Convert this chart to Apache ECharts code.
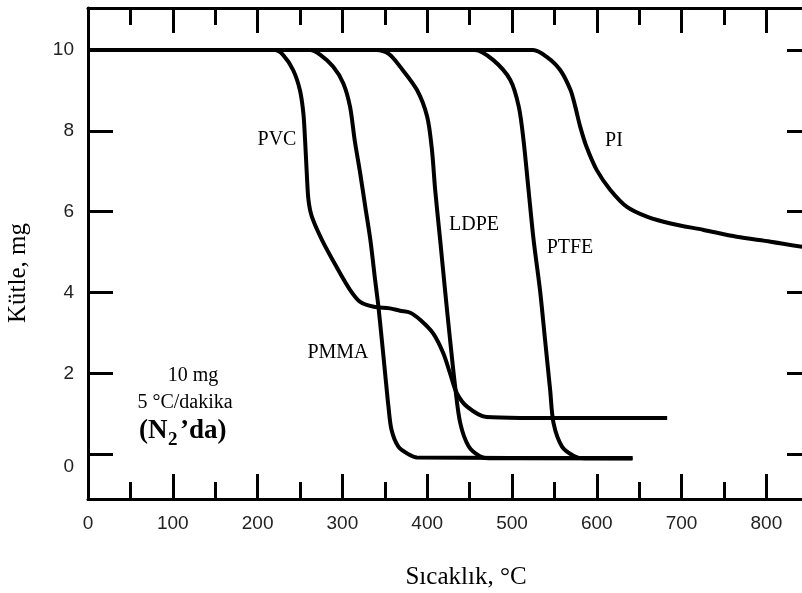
<!DOCTYPE html>
<html>
<head>
<meta charset="utf-8">
<script src="https://cdn.jsdelivr.net/npm/echarts@6/dist/echarts.min.js"></script>
<style>
  html, body { margin: 0; padding: 0; background: #fff; }
  #chart { width: 802px; height: 593px; }
</style>
</head>
<body>
<div id="chart"></div>
<script>
// TGA eğrileri, 10 mg numune, 5 °C/dakika, N2 altında
const pvc = [[0,10],[220,10],[230,9.88],[242,9.5],[250,9.0],[254,8.43],[256,7.77],[258,6.95],[260,6.29],[264,5.88],[276,5.3],[293,4.64],[309,4.07],[321,3.77],[337,3.65],[356,3.61],[368,3.55],[380,3.5],[392,3.32],[407,2.99],[419,2.5],[427,2.0],[435,1.51],[447,1.18],[470,0.92],[510,0.9],[683,0.9]];
const pmma = [[0,10],[262,10],[274,9.88],[289,9.59],[301,9.18],[309,8.6],[314.5,7.77],[321,6.95],[327,6.12],[333,5.3],[338.6,4.31],[342.5,3.65],[346.5,2.83],[350.4,2.0],[354.3,1.18],[358,0.6],[366,0.19],[378,0],[388,-0.08],[642,-0.1]];
const ldpe = [[0,10],[340,10],[355,9.9],[368,9.59],[388,9.01],[400,8.35],[405.6,7.53],[409.4,6.54],[415.3,5.3],[421,4.07],[427,2.83],[433,1.67],[439,0.77],[449,0.19],[462,-0.05],[472,-0.1],[642,-0.1]];
const ptfe = [[0,10],[456,10],[478,9.75],[498,9.26],[508,8.6],[513.6,7.77],[519.5,6.54],[525.5,5.3],[533,4.07],[539,2.83],[545,1.59],[549,0.77],[559,0.19],[573,-0.04],[585,-0.1],[642,-0.1]];
const pi = [[0,10],[525,10],[541,9.83],[557,9.5],[569,9.01],[574.6,8.6],[580.5,8.1],[588,7.6],[600,7.03],[616,6.54],[635.6,6.12],[659,5.88],[687,5.71],[726,5.55],[765,5.38],[805,5.26],[842.5,5.13]];

const xMajor = [0,100,200,300,400,500,600,700,800];
const xMinor = [50,150,250,350,450,550,650,750];
const yMajor = [0,2,4,6,8,10];

const SERIF = '"Liberation Serif", "Times New Roman", serif';
const SANS = '"Liberation Sans", Arial, sans-serif';

let myChart = echarts.init(document.getElementById('chart'));

function lineSeries(name, data){
    return {
        name: name,
        type: 'line',
        data: data,
        showSymbol: false,
        smooth: 0.3,
        lineStyle: { color: '#000', width: 4 },
        animation: false
    };
}

function tickAxis(pos, values, len, showLine){
    return {
        type: 'value',
        position: pos,
        min: 0,
        max: 842,
        axisLine: { show: showLine, onZero: false, lineStyle: { color: '#000', width: 3 } },
        axisTick: { show: true, inside: true, length: len, customValues: values, lineStyle: { color: '#000', width: 3 } },
        axisLabel: { show: false },
        splitLine: { show: false }
    };
}

let xBottom = tickAxis('bottom', xMajor, 25, true);
xBottom.axisLabel = {
    show: true,
    customValues: xMajor,
    margin: 15,
    color: '#222',
    fontFamily: SANS,
    fontSize: 19
};

function txt(x, y, text, font, align){
    return {
        type: 'text',
        x: x,
        y: y,
        style: {
            text: text,
            fill: '#000',
            font: font,
            textAlign: align || 'center',
            textVerticalAlign: 'middle'
        }
    };
}

myChart.setOption({
    animation: false,
    backgroundColor: '#fff',
    grid: { left: 88, right: 0, top: 8, bottom: 94, outerBoundsMode: 'none' },
    xAxis: [
        xBottom,
        tickAxis('bottom', xMinor, 17, false),
        tickAxis('top', xMajor, 25, true),
        tickAxis('top', xMinor, 17, false)
    ],
    yAxis: [
        {
            type: 'value',
            position: 'left',
            min: -1.106,
            max: 11.04,
            axisLine: { show: true, onZero: false, lineStyle: { color: '#000', width: 3 } },
            axisTick: { show: true, inside: true, length: 25, customValues: yMajor, lineStyle: { color: '#000', width: 3 } },
            axisLabel: {
                show: true,
                customValues: yMajor,
                margin: 14,
                color: '#222',
                fontFamily: SANS,
                fontSize: 19,
                formatter: function(v){
                    return v === 0 ? '{z|0}' : String(v);
                },
                rich: { z: { fontFamily: SANS, fontSize: 19, color: '#222', padding: [24, 0, 0, 0] } }
            },
            splitLine: { show: false }
        },
        {
            type: 'value',
            position: 'right',
            min: -1.106,
            max: 11.04,
            axisLine: { show: false, onZero: false },
            axisTick: { show: true, inside: true, length: 15, customValues: yMajor, lineStyle: { color: '#000', width: 3 } },
            axisLabel: { show: false },
            splitLine: { show: false }
        }
    ],
    series: [
        lineSeries('PVC', pvc),
        lineSeries('PMMA', pmma),
        lineSeries('LDPE', ldpe),
        lineSeries('PTFE', ptfe),
        lineSeries('PI', pi)
    ],
    graphic: [
        // eksen başlıkları
        txt(466, 577, 'Sıcaklık, °C', '25px ' + SERIF),
        Object.assign(txt(18, 273, 'Kütle, mg', '25px ' + SERIF), { rotation: Math.PI / 2 }),
        // eğri etiketleri
        txt(277, 140, 'PVC', '20px ' + SERIF),
        txt(338, 353, 'PMMA', '20px ' + SERIF),
        txt(474, 225, 'LDPE', '20px ' + SERIF),
        txt(570, 248, 'PTFE', '20px ' + SERIF),
        txt(614, 141, 'PI', '20px ' + SERIF),
        // deney koşulları
        txt(193, 376, '10 mg', '20px ' + SERIF),
        txt(185, 403, '5 °C/dakika', '20px ' + SERIF),
        txt(139, 431, '(N', 'bold 27px ' + SERIF, 'left'),
        txt(168, 440, '2', 'bold 19px ' + SERIF, 'left'),
        txt(180, 431, '’da)', 'bold 27px ' + SERIF, 'left')
    ]
});
</script>
</body>
</html>
